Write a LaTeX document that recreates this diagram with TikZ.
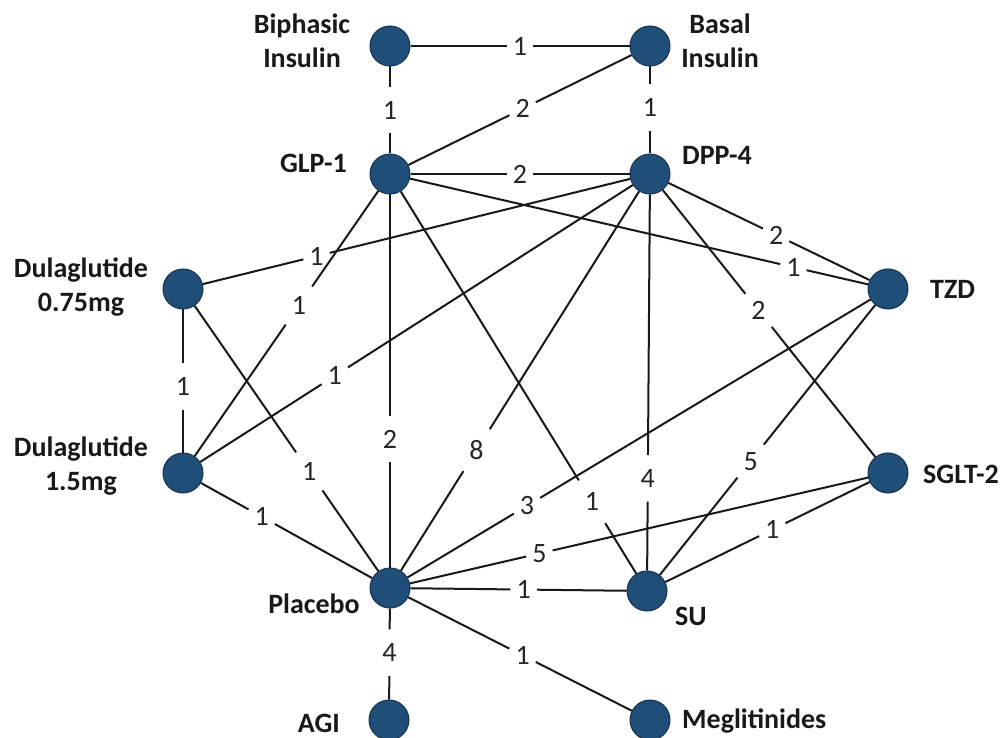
\documentclass[tikz,border=0pt]{standalone}
\usepackage{fontspec}
\setmainfont{Carlito}
\definecolor{nodeblue}{RGB}{31,78,121}
\definecolor{nodeedge}{RGB}{22,50,78}
\definecolor{linecol}{RGB}{25,25,25}
\begin{document}
\begin{tikzpicture}[x=1pt,y=-1pt,
  drug/.style={circle,fill=nodeblue,draw=nodeedge,line width=1pt,minimum size=40pt,inner sep=0pt},
  edge/.style={line width=2pt,draw=linecol},
  wt/.style={inner sep=0pt,minimum width=26pt,minimum height=46pt,font=\fontsize{28}{28}\selectfont,text=black!85},
  lbl/.style={font=\bfseries\fontsize{28}{34}\selectfont,inner sep=0pt,align=center,text=black!90}]
\useasboundingbox (0,0) rectangle (1005,738);
\fill[white] (0,0) rectangle (1005,738);

% drug nodes
\node[drug] (bi) at (390,46) {};
\node[drug] (ba) at (650,46) {};
\node[drug] (glp) at (390,174) {};
\node[drug] (dpp) at (650,174) {};
\node[drug] (d075) at (183,289) {};
\node[drug] (tzd) at (888,289) {};
\node[drug] (d15) at (183,473) {};
\node[drug] (sglt) at (888,473) {};
\node[drug] (pla) at (390,588) {};
\node[drug] (su) at (647,591) {};
\node[drug] (agi) at (389,720) {};
\node[drug] (meg) at (650,720) {};

% edges, each broken by its weight
\foreach \a/\b/\p/\t in {bi/ba/0.5/1,bi/glp/0.5/1,ba/dpp/0.48/1,glp/ba/0.51/2,glp/dpp/0.5/2,glp/tzd/0.81/1,dpp/tzd/0.53/2,dpp/sglt/0.456/2,dpp/d075/0.714/1,glp/d15/0.44/1,dpp/d15/0.675/1,d075/d15/0.53/1,glp/pla/0.64/2,d075/pla/0.61/1,d15/pla/0.38/1,dpp/pla/0.667/8,pla/tzd/0.275/3,glp/su/0.786/1,dpp/su/0.73/4,tzd/su/0.57/5,pla/sglt/0.30/5,su/sglt/0.52/1,pla/su/0.52/1,pla/agi/0.49/4,pla/meg/0.51/1}
  {\path (\a.center) -- node[wt,pos=\p] (w-\a-\b) {\t} (\b.center);
   \draw[edge] (\a) -- (w-\a-\b);
   \draw[edge] (w-\a-\b) -- (\b);}

% names
\node[lbl] (tbi) at (302,41) {Biphasic\\Insulin};
\node[lbl] (tba) at (720,41) {Basal\\Insulin};
\node[lbl,anchor=base east] (tglp) at (347,173) {GLP-1};
\node[lbl,anchor=base west] (tdpp) at (682,165) {DPP-4};
\node[lbl] (td075) at (81,287) {Dulaglutide\\0.75mg};
\node[lbl,anchor=base west] (ttzd) at (930,299) {TZD};
\node[lbl] (td15) at (81,466) {Dulaglutide\\1.5mg};
\node[lbl,anchor=base west] (tsglt) at (923,483) {SGLT-2};
\node[lbl,anchor=base east] (tpla) at (360,613) {Placebo};
\node[lbl,anchor=base west] (tsu) at (675,625) {SU};
\node[lbl,anchor=base east] (tagi) at (340,732) {AGI};
\node[lbl,anchor=base west] (tmeg) at (682,728) {Meglitinides};
\end{tikzpicture}
\end{document}
